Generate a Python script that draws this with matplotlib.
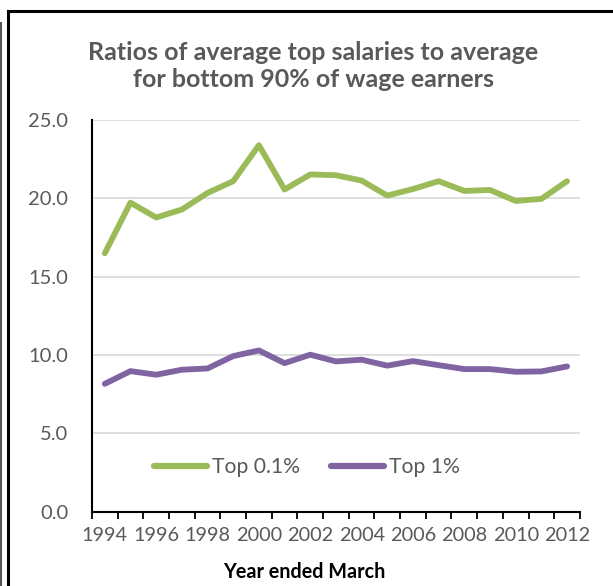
import matplotlib
matplotlib.use("Agg")
import matplotlib.pyplot as plt
import numpy as np
from matplotlib.lines import Line2D

YEARS = list(range(1994, 2013))
TOP_01 = [16.5, 19.73, 18.78, 19.29, 20.35, 21.1, 23.4, 20.57, 21.53, 21.48,
          21.14, 20.18, 20.6, 21.1, 20.48, 20.54, 19.84, 19.97, 21.1]
TOP_1 = [8.16, 8.97, 8.74, 9.06, 9.14, 9.93, 10.29, 9.48, 10.02, 9.59,
         9.70, 9.32, 9.61, 9.35, 9.10, 9.10, 8.93, 8.95, 9.27]
Y_TICKS = [0.0, 5.0, 10.0, 15.0, 20.0, 25.0]

GREEN = "#9BBB59"
PURPLE = "#8064A2"
GREY_TEXT = "#595959"

plt.rcParams["font.family"] = ["Lato", "DejaVu Sans"]

fig = plt.figure(figsize=(6.13, 5.86), dpi=100)
ax = fig.add_axes([0.150, 0.127, 0.796, 0.668])

x = np.arange(len(YEARS))
ax.plot(x, TOP_01, color=GREEN, linewidth=4.2, solid_capstyle="round", solid_joinstyle="round", zorder=3)
ax.plot(x, TOP_1, color=PURPLE, linewidth=4.2, solid_capstyle="round", solid_joinstyle="round", zorder=3)

ax.set_xlim(-0.5, len(YEARS) - 0.5)
ax.set_ylim(0, 25)
ax.set_yticks(Y_TICKS)
ax.set_yticklabels([f"{v:.1f}" for v in Y_TICKS], fontsize=14.5, color=GREY_TEXT)
ax.set_xticks(x[::2])
ax.set_xticklabels([str(y) for y in YEARS[::2]], fontsize=14.3, color=GREY_TEXT)
ax.set_xticks(np.arange(-0.5, len(YEARS)), minor=True)
ax.tick_params(axis="x", which="major", length=0, pad=11)
ax.tick_params(axis="x", which="minor", length=5, width=1.3, color="black")
ax.tick_params(axis="y", length=0, pad=17)
ax.grid(axis="y", color="#D9D9D9", linewidth=1.2, zorder=0)
for side in ["top", "right"]:
    ax.spines[side].set_visible(False)
for side in ["left", "bottom"]:
    ax.spines[side].set_linewidth(1.5)
    ax.spines[side].set_zorder(4)

fig.text(0.496, 0.024, "Year ended March", ha="center", va="center",
         fontsize=14.2, fontweight="bold", color="black")

handles = [Line2D([], [], color=GREEN, linewidth=4.5, solid_capstyle="round"),
           Line2D([], [], color=PURPLE, linewidth=4.5, solid_capstyle="round")]
ax.legend(handles, ["Top 0.1%", "Top 1%"], loc="center left", bbox_to_anchor=(0.128, 0.114),
          ncol=2, frameon=False, fontsize=15.2, handlelength=2.5, handletextpad=0.25,
          columnspacing=1.45, labelcolor=GREY_TEXT, borderpad=0, borderaxespad=0)

fig.text(0.511, 0.887, "Ratios of average top salaries to average\nfor bottom 90% of wage earners",
         ha="center", va="center", fontsize=18, fontweight="bold", color=GREY_TEXT, linespacing=1.2)

# chart frame (cropped at right and bottom)
fig.add_artist(Line2D([0.0125, 0.0125], [0, 0.982], color="black", linewidth=2.2, transform=fig.transFigure))
fig.add_artist(Line2D([0.0125, 1.0], [0.982, 0.982], color="black", linewidth=2.2, transform=fig.transFigure))
fig.add_artist(Line2D([0.001, 0.001], [0, 0.96], color="#555555", linewidth=1.5, transform=fig.transFigure))

fig.savefig("out.png", dpi=100)
